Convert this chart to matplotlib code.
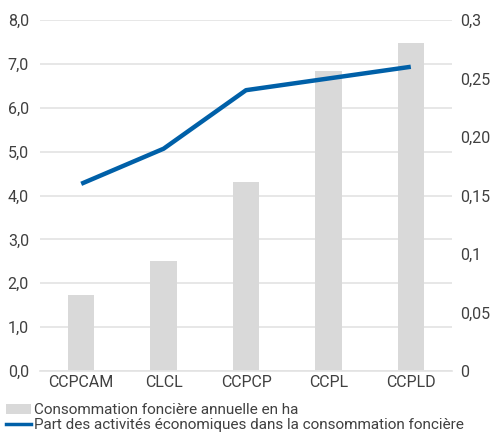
import matplotlib
matplotlib.use("Agg")
import matplotlib.pyplot as plt
from matplotlib.patches import Patch
from matplotlib.lines import Line2D

plt.rcParams['font.family'] = ['Roboto', 'DejaVu Sans']

# data
categories = ["CCPCAM", "CLCL", "CCPCP", "CCPL", "CCPLD"]
conso_ha = [1.73, 2.5, 4.3, 6.83, 7.47]
part_eco = [0.16, 0.19, 0.24, 0.25, 0.26]

left_ticks = [0, 1, 2, 3, 4, 5, 6, 7, 8]
left_labels = ["0,0", "1,0", "2,0", "3,0", "4,0", "5,0", "6,0", "7,0", "8,0"]
right_ticks = [0, 0.05, 0.1, 0.15, 0.2, 0.25, 0.3]
right_labels = ["0", "0,05", "0,1", "0,15", "0,20", "0,25", "0,3"]

bar_color = "#d9d9d9"
line_color = "#0060a8"
text_color = "#404040"
grid_color = "#e3e3e3"

fig = plt.figure(figsize=(4.94, 4.34), dpi=100)
ax = fig.add_axes([0.081, 0.145, 0.834, 0.809])
ax2 = ax.twinx()

x = range(len(categories))
ax.bar(x, conso_ha, width=0.32, color=bar_color, zorder=2)
ax2.plot(x, part_eco, color=line_color, linewidth=3.2, solid_capstyle='butt', zorder=3)

ax.set_xlim(-0.5, len(categories) - 0.5)
ax.set_ylim(0, 8)
ax2.set_ylim(0, 0.3)

ax.set_yticks(left_ticks)
ax.set_yticklabels(left_labels)
ax2.set_yticks(right_ticks)
ax2.set_yticklabels(right_labels)
ax.set_xticks(list(x))
ax.set_xticklabels(categories)

ax.grid(axis='y', color=grid_color, linewidth=1.2, zorder=0)
ax.set_axisbelow(True)

for a in (ax, ax2):
    for s in a.spines.values():
        s.set_visible(False)
    a.tick_params(length=0, labelsize=11.5, labelcolor=text_color)
ax.tick_params(axis='y', pad=8)
ax2.tick_params(axis='y', pad=6)
ax.tick_params(axis='x', pad=3)
ax.spines['bottom'].set_visible(True)
ax.spines['bottom'].set_color(grid_color)
ax.spines['bottom'].set_linewidth(1.2)

handles = [
    Patch(facecolor=bar_color, edgecolor='none'),
    Line2D([0], [0], color=line_color, linewidth=2.5),
]
labels = [
    "Consommation foncière annuelle en ha",
    "Part des activités économiques dans la consommation foncière",
]
fig.legend(handles, labels, loc='lower left', bbox_to_anchor=(0.0, -0.01),
           frameon=False, fontsize=11, labelcolor=text_color,
           handlelength=1.6, handletextpad=0.25, labelspacing=0.05,
           borderpad=0.2, borderaxespad=0.2)

fig.savefig("out.png", dpi=100)
